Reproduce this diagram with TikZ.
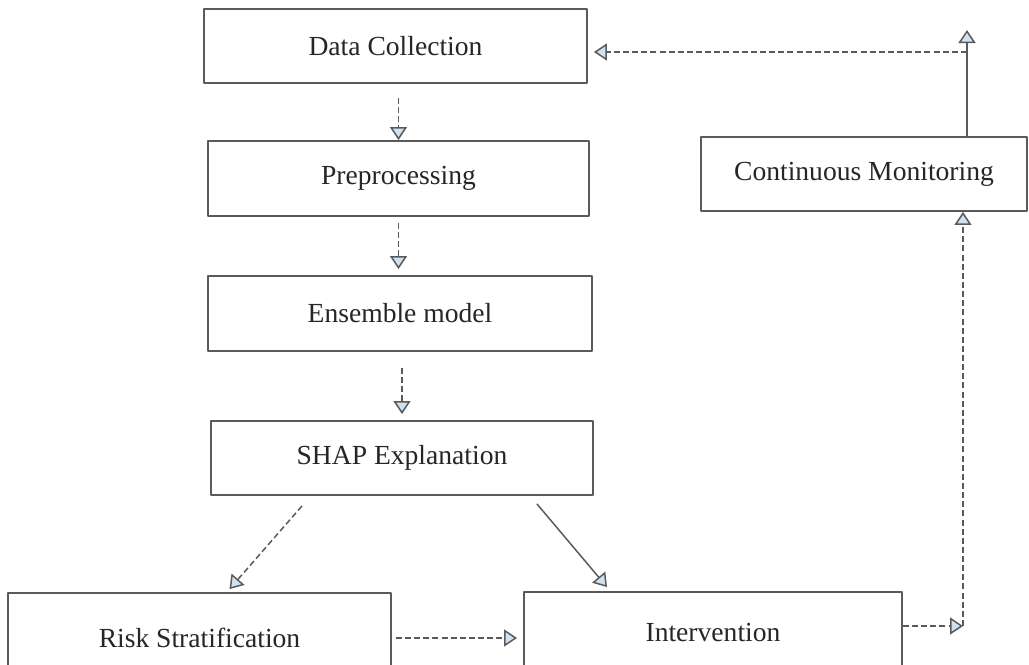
\documentclass[tikz,border=0pt]{standalone}
\usepackage{fontspec}
\setmainfont{Liberation Serif}
\usetikzlibrary{arrows.meta}
\definecolor{boxgray}{HTML}{5A5A5A}
\definecolor{tipblue}{HTML}{CFE2F3}

\begin{document}
\begin{tikzpicture}[x=0.02cm,y=-0.02cm,line join=round,
    stage/.style={draw=boxgray,line width=1.1pt,fill=white,text=black!85,
      font=\fontsize{15.7}{18}\selectfont,inner sep=0pt},
    flow/.style={draw=boxgray,line width=0.85pt,dash pattern=on 3.4pt off 1.8pt,
      -{Triangle[width=0.34cm,length=0.26cm,fill=tipblue]}},
    solidflow/.style={draw=boxgray,line width=0.85pt,
      -{Triangle[width=0.34cm,length=0.26cm,fill=tipblue]}}]
    \useasboundingbox (0,0) rectangle (1029,664);
    % pipeline boxes
    \node[stage,minimum width=7.66cm,minimum height=1.48cm] (dc) at (395.5,46) {Data Collection};
    \node[stage,minimum width=7.62cm,minimum height=1.5cm] (pre) at (398.5,178.5) {Preprocessing};
    \node[stage,minimum width=7.68cm,minimum height=1.5cm] (ens) at (400,313.5) {Ensemble model};
    \node[stage,minimum width=7.64cm,minimum height=1.48cm] (shap) at (402,458) {SHAP Explanation};
    \node[stage,minimum width=7.66cm,minimum height=1.8cm] (risk) at (199.5,638) {Risk Stratification};
    \node[stage,minimum width=7.56cm,minimum height=1.6cm] (inter) at (713,632) {Intervention};
    \node[stage,minimum width=6.52cm,minimum height=1.48cm] (cm) at (864,174) {Continuous Monitoring};
    \coordinate (turn) at (963,626);
    \coordinate (peak) at (967,30);
    \coordinate (back) at (967,52);
    % connectors
    \draw[flow,shorten <=0.28cm] (pre.north |- dc.south) -- (pre.north);
    \draw[flow,shorten <=0.12cm,shorten >=0.12cm] (pre.south) -- (pre.south |- ens.north);
    \draw[flow,shorten <=0.32cm,shorten >=0.12cm] (shap.north |- ens.south) -- (shap.north);
    \draw[flow] ([xshift=-2cm,yshift=-0.2cm]shap.south) -- ([xshift=0.6cm,yshift=0.06cm]risk.north);
    \draw[solidflow] ([xshift=2.7cm,yshift=-0.16cm]shap.south) -- ([xshift=-2.12cm,yshift=0.08cm]inter.north);
    \draw[flow,shorten <=0.08cm,shorten >=0.12cm] (risk.east) -- (risk.east -| inter.west);
    \draw[flow] (inter.east |- turn) -- (turn);
    \draw[flow] (turn) -- (turn |- cm.south);
    \draw[solidflow] (peak |- cm.north) -- (peak);
    \draw[flow,shorten >=0.12cm] (back) -- (back -| dc.east);
\end{tikzpicture}
\end{document}
